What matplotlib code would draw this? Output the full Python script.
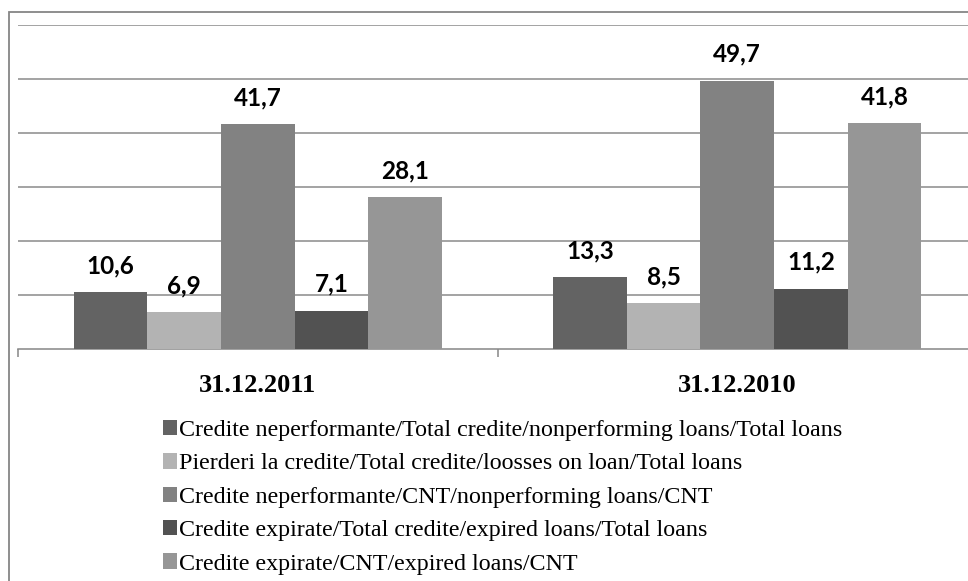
import matplotlib
matplotlib.use("Agg")
import matplotlib.pyplot as plt
import numpy as np
from matplotlib.patches import Rectangle

categories = ["31.12.2011", "31.12.2010"]
series_names = [
    "Credite neperformante/Total credite/nonperforming loans/Total loans",
    "Pierderi la credite/Total credite/loosses on loan/Total loans",
    "Credite neperformante/CNT/nonperforming loans/CNT",
    "Credite expirate/Total credite/expired loans/Total loans",
    "Credite expirate/CNT/expired loans/CNT",
]
values = [
    [10.6, 13.3],
    [6.9, 8.5],
    [41.7, 49.7],
    [7.1, 11.2],
    [28.1, 41.8],
]
colors = ["#636363", "#b3b3b3", "#828282", "#525252", "#969696"]

fig = plt.figure(figsize=(9.68, 5.81), dpi=100)
W, H = 968, 581

# outer chart frame (runs off the right and bottom edges)
fig.patches.append(Rectangle((9 / W, -0.1), 1.2, 1 - 12 / H + 0.1,
                             transform=fig.transFigure, fill=False,
                             edgecolor="#868686", lw=1.3))

ax = fig.add_axes([18 / W, 1 - 349 / H, (977 - 18) / W, (349 - 25) / H])
x = np.arange(len(categories))
bw = 0.1537
for i, (name, vals, c) in enumerate(zip(series_names, values, colors)):
    pos = x + (i - 2) * bw
    ax.bar(pos, vals, width=bw, color=c, label=name, zorder=3)
    for xp, v in zip(pos, vals):
        ax.annotate(f"{v:.1f}".replace(".", ","), (xp, v), xytext=(0, 13.5),
                    textcoords="offset points", ha="center", va="baseline",
                    fontsize=17.5, fontweight="bold", family="Lato")

ax.set_xlim(-0.5, 1.5)
ax.set_ylim(0, 60)
ax.set_yticks(np.arange(10, 61, 10))
ax.yaxis.grid(True, color="#8a8a8a", lw=1.1, zorder=0)
ax.tick_params(axis="y", length=0, labelleft=False)
for s in ["left", "right", "top"]:
    ax.spines[s].set_visible(False)
ax.spines["bottom"].set_color("#868686")
ax.spines["bottom"].set_linewidth(1.1)

ax.set_xticks(x)
ax.set_xticklabels(categories, family="Liberation Serif", fontweight="bold",
                   fontsize=19)
ax.tick_params(axis="x", which="major", length=0, pad=18)
ax.set_xticks([-0.5, 0.5, 1.5], minor=True)
ax.tick_params(axis="x", which="minor", length=6, color="#868686", width=1.1)

leg = fig.legend(loc="upper left", bbox_to_anchor=(163 / W, 1 - 420 / H),
                 frameon=False, prop={"family": "Liberation Serif", "size": 17.3},
                 handlelength=0.6, handleheight=0.6, handletextpad=0.08,
                 labelspacing=0.51, borderaxespad=0, borderpad=0)

fig.savefig("out.png", dpi=100, facecolor="white")
